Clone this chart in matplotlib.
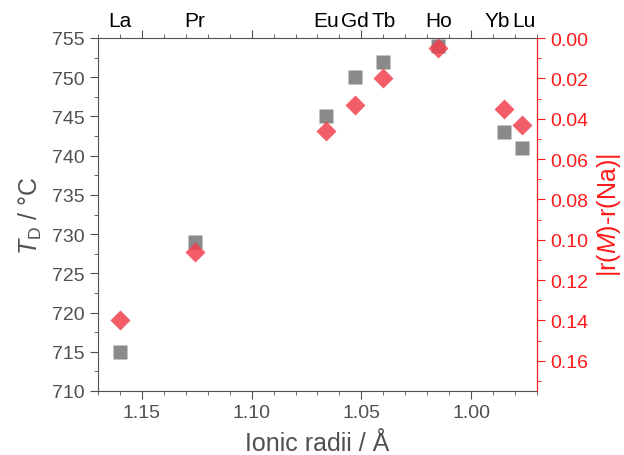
import numpy as np
import matplotlib.pyplot as plt
from matplotlib.ticker import MultipleLocator

plt.rcParams['font.family'] = ['Liberation Sans', 'DejaVu Sans']
plt.rcParams['mathtext.fontset'] = 'custom'
plt.rcParams['mathtext.rm'] = 'Liberation Sans'
plt.rcParams['mathtext.it'] = 'Liberation Sans:italic'

# data
elements = ['La', 'Pr', 'Eu', 'Gd', 'Tb', 'Ho', 'Yb', 'Lu']
radii = [1.160, 1.126, 1.066, 1.053, 1.040, 1.015, 0.985, 0.977]
t_d = [715, 729, 745, 750, 752, 754, 743, 741]
r_diff = [0.140, 0.106, 0.046, 0.033, 0.020, 0.005, 0.035, 0.043]
label_shift = [0, 0, 0, 0, 0, 0, -5, 2]   # points, to keep Yb/Lu apart

grey = '#505050'
red = '#ff1a1a'

fig = plt.figure(figsize=(6.24, 4.56), dpi=100)
ax = fig.add_axes([98/624, 1 - 392/456, (537 - 98)/624, (392 - 39)/456])

ax.plot(radii, t_d, 's', color='#8a8a8a', ms=9.4, mec='none', zorder=3)
ax.set_xlim(1.17, 0.97)
ax.set_ylim(710, 755)
ax.xaxis.set_major_locator(MultipleLocator(0.05))
ax.xaxis.set_minor_locator(MultipleLocator(0.01))
ax.xaxis.set_major_formatter(plt.FormatStrFormatter('%.2f'))
ax.yaxis.set_major_locator(MultipleLocator(5))
ax.yaxis.set_minor_locator(MultipleLocator(2.5))
ax.tick_params(which='both', direction='out', colors=grey, labelsize=14, top=True)
ax.tick_params(which='major', length=6)
ax.tick_params(which='minor', length=3)
ax.set_xlabel('Ionic radii / Å', fontsize=18, color=grey, labelpad=7)
ax.set_ylabel('$T_{\\mathrm{D}}$ / °C', fontsize=18, color=grey, labelpad=6)
for s in ['left', 'bottom', 'top']:
    ax.spines[s].set_color(grey)

ax2 = ax.twinx()
ax2.plot(radii, r_diff, 'D', color='#f0404c', alpha=0.85, ms=10, mec='none', zorder=4)
ax2.set_ylim(0.175, 0.0)
ax2.yaxis.set_major_locator(MultipleLocator(0.02))
ax2.yaxis.set_minor_locator(MultipleLocator(0.01))
ax2.yaxis.set_major_formatter(plt.FormatStrFormatter('%.2f'))
ax2.tick_params(which='both', direction='out', colors=red, labelsize=14)
ax2.tick_params(which='major', length=6)
ax2.tick_params(which='minor', length=3)
ax2.spines['right'].set_color(red)
ax2.spines['left'].set_visible(False)
ax2.spines['top'].set_visible(False)
ax2.spines['bottom'].set_visible(False)
ax2.set_ylabel('|r($M$)-r(Na)|', fontsize=18, color=red, labelpad=5)

# element names along the top
for el, r, dx in zip(elements, radii, label_shift):
    ax.annotate(el, (r, 1.0), xycoords=ax.get_xaxis_transform(),
                xytext=(dx, 6), textcoords='offset points',
                ha='center', va='bottom', fontsize=15, color='black')

fig.savefig('out.png', dpi=100)
